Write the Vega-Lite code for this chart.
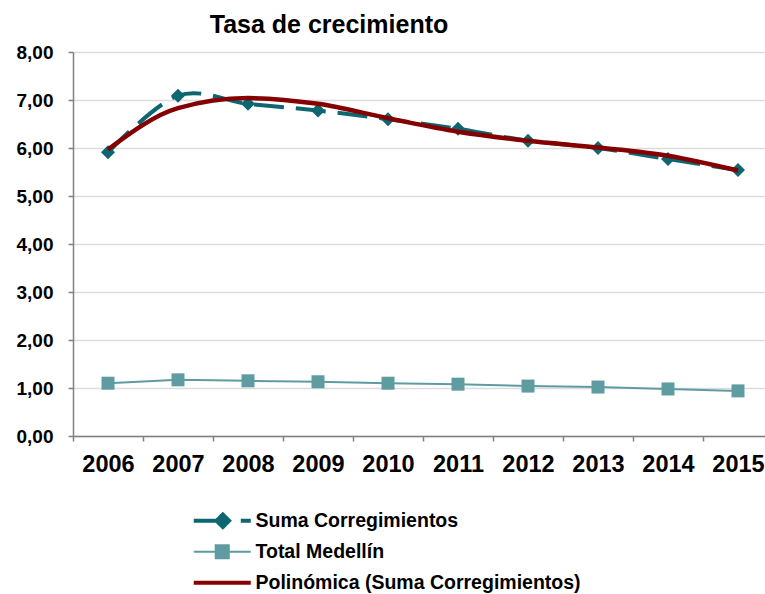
{
  "$schema": "https://vega.github.io/schema/vega-lite/v6.json",
  "width": 700,
  "height": 384,
  "padding": {"left": 16, "top": 13, "right": 0, "bottom": 0},
  "background": "white",
  "title": {"text": "Tasa de crecimiento", "font": "Liberation Sans", "fontSize": 25, "fontWeight": "bold", "color": "#000000", "anchor": "middle", "dx": -94, "baseline": "alphabetic", "offset": -15},
  "data": {"values": [
    {"anio": "2006", "serie": "Suma Corregimientos", "valor": 5.91},
    {"anio": "2007", "serie": "Suma Corregimientos", "valor": 7.09},
    {"anio": "2008", "serie": "Suma Corregimientos", "valor": 6.92},
    {"anio": "2009", "serie": "Suma Corregimientos", "valor": 6.78},
    {"anio": "2010", "serie": "Suma Corregimientos", "valor": 6.60},
    {"anio": "2011", "serie": "Suma Corregimientos", "valor": 6.40},
    {"anio": "2012", "serie": "Suma Corregimientos", "valor": 6.15},
    {"anio": "2013", "serie": "Suma Corregimientos", "valor": 6.00},
    {"anio": "2014", "serie": "Suma Corregimientos", "valor": 5.77},
    {"anio": "2015", "serie": "Suma Corregimientos", "valor": 5.54},
    {"anio": "2006", "serie": "Total Medellín", "valor": 1.10},
    {"anio": "2007", "serie": "Total Medellín", "valor": 1.17},
    {"anio": "2008", "serie": "Total Medellín", "valor": 1.15},
    {"anio": "2009", "serie": "Total Medellín", "valor": 1.13},
    {"anio": "2010", "serie": "Total Medellín", "valor": 1.10},
    {"anio": "2011", "serie": "Total Medellín", "valor": 1.08},
    {"anio": "2012", "serie": "Total Medellín", "valor": 1.04},
    {"anio": "2013", "serie": "Total Medellín", "valor": 1.02},
    {"anio": "2014", "serie": "Total Medellín", "valor": 0.98},
    {"anio": "2015", "serie": "Total Medellín", "valor": 0.94},
    {"anio": "2006", "serie": "Polinómica (Suma Corregimientos)", "valor": 5.97},
    {"anio": "2007", "serie": "Polinómica (Suma Corregimientos)", "valor": 6.83},
    {"anio": "2008", "serie": "Polinómica (Suma Corregimientos)", "valor": 7.04},
    {"anio": "2009", "serie": "Polinómica (Suma Corregimientos)", "valor": 6.92},
    {"anio": "2010", "serie": "Polinómica (Suma Corregimientos)", "valor": 6.62},
    {"anio": "2011", "serie": "Polinómica (Suma Corregimientos)", "valor": 6.34},
    {"anio": "2012", "serie": "Polinómica (Suma Corregimientos)", "valor": 6.15},
    {"anio": "2013", "serie": "Polinómica (Suma Corregimientos)", "valor": 6.01},
    {"anio": "2014", "serie": "Polinómica (Suma Corregimientos)", "valor": 5.84},
    {"anio": "2015", "serie": "Polinómica (Suma Corregimientos)", "valor": 5.53}
  ]},
  "encoding": {
    "x": {
      "field": "anio", "type": "ordinal",
      "scale": {"type": "band", "paddingInner": 0, "paddingOuter": 0},
      "axis": {"title": null, "tickBand": "extent", "labelAngle": 0, "grid": false, "domainColor": "#808080", "domainWidth": 1.5, "tickColor": "#808080", "tickSize": 5, "tickWidth": 1.5, "labelFont": "Liberation Sans", "labelFontSize": 23.5, "labelFontWeight": "bold", "labelColor": "#000000", "labelPadding": 11}
    },
    "y": {
      "field": "valor", "type": "quantitative",
      "scale": {"domain": [0, 8], "nice": false},
      "axis": {"title": null, "values": [0, 1, 2, 3, 4, 5, 6, 7, 8], "labelExpr": "replace(format(datum.value, '.2f'), '.', ',')", "grid": true, "gridColor": "#dcdcdc", "gridWidth": 1.5, "domainColor": "#808080", "domainWidth": 1.5, "tickColor": "#808080", "tickSize": 5, "tickWidth": 1.5, "labelFont": "Liberation Sans", "labelFontSize": 19, "labelFontWeight": "bold", "labelColor": "#000000", "labelPadding": 15}
    },
    "color": {
      "field": "serie", "type": "nominal",
      "scale": {"domain": ["Suma Corregimientos", "Total Medellín", "Polinómica (Suma Corregimientos)"], "range": ["#0d6670", "#5e9ca1", "#850000"]},
      "legend": {
        "title": null, "orient": "none", "legendX": 139.5, "legendY": 459, "direction": "vertical",
        "symbolSize": 3249, "labelFont": "Liberation Sans", "labelFontSize": 19.5, "labelFontWeight": "bold", "labelColor": "#000000", "labelLimit": 600, "labelOffset": 23.5, "rowPadding": 5,
        "encode": {"symbols": {"update": {
          "shape": {"signal": "datum.value === 'Suma Corregimientos' ? 'M-1,0L0.23,0M0.02,-0.22L0.24,0L0.02,0.22L-0.2,0ZM0.65,0L1,0' : (datum.value === 'Total Medellín' ? 'M-1,0L1,0M-0.23,-0.23L0.23,-0.23L0.23,0.23L-0.23,0.23Z' : 'M0,-0.23M0,0.23M-1,0L1,0')"},
          "stroke": {"signal": "scale('color', datum.value)"},
          "fill": {"signal": "scale('color', datum.value)"},
          "strokeWidth": {"signal": "datum.value === 'Total Medellín' ? 2 : 4"},
          "strokeDash": {"value": [1, 0]},
          "opacity": {"value": 1}
        }}}
      }
    }
  },
  "layer": [
    {"transform": [{"filter": "datum.serie === 'Suma Corregimientos'"}], "mark": {"type": "line", "interpolate": "cardinal", "strokeWidth": 4, "strokeDash": [30, 12]}},
    {"transform": [{"filter": "datum.serie === 'Suma Corregimientos'"}], "mark": {"type": "point", "shape": "diamond", "filled": true, "size": 196, "opacity": 1}},
    {"transform": [{"filter": "datum.serie === 'Total Medellín'"}], "mark": {"type": "line", "strokeWidth": 2}},
    {"transform": [{"filter": "datum.serie === 'Total Medellín'"}], "mark": {"type": "point", "shape": "square", "filled": true, "size": 169, "opacity": 1}},
    {"transform": [{"filter": "datum.serie === 'Polinómica (Suma Corregimientos)'"}], "mark": {"type": "line", "interpolate": "monotone", "strokeWidth": 4.5}}
  ],
  "config": {"view": {"stroke": null}}
}
